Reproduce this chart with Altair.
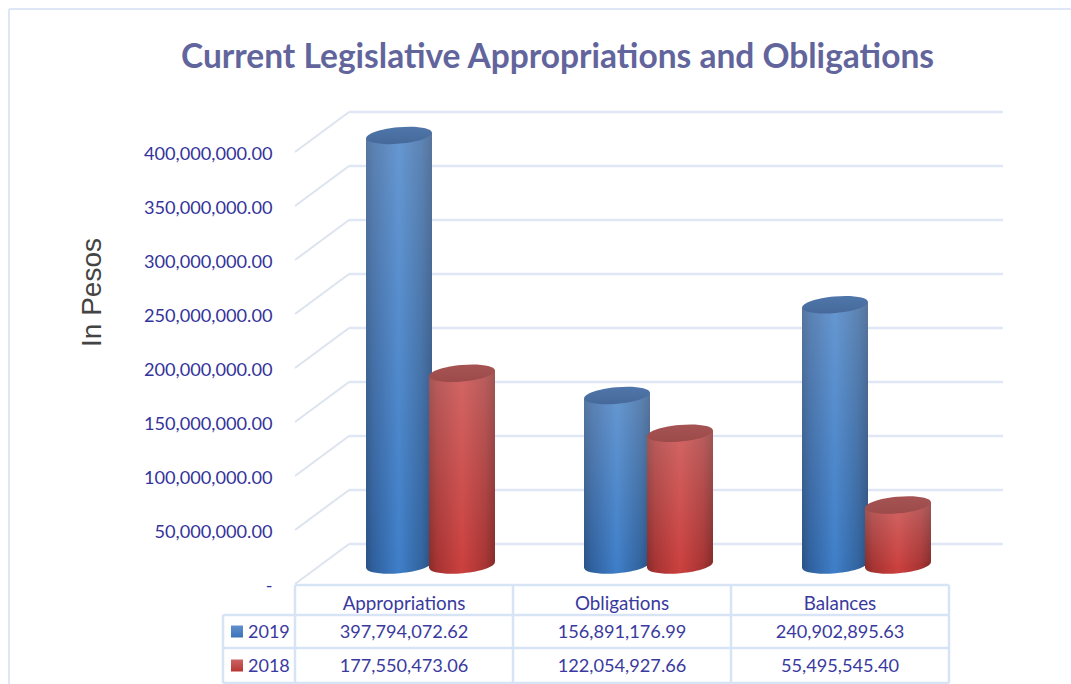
import math

import altair as alt
import pandas as pd

# ----- Chart values -----
CATEGORIES = ["Appropriations", "Obligations", "Balances"]
VALUES_2019 = [397794072.62, 156891176.99, 240902895.63]
VALUES_2018 = [177550473.06, 122054927.66, 55495545.40]
AXIS_TICKS = [0, 50e6, 100e6, 150e6, 200e6, 250e6, 300e6, 350e6, 400e6]
TITLE = "Current Legislative Appropriations and Obligations"

# ----- Canvas and projection of the pseudo-3D plot box -----
W, H = 1071, 684
SLOT_PX = 218.0            # width of one category column
FLOOR_LEFT_PX = 295.0      # left edge of the first category column
ZERO_PX = 584.0            # pixel row of the value 0 at the front of the box
PX_PER_VALUE = 1.08e-6
DEPTH_X = 54.0 / SLOT_PX   # how far the back wall is shifted right
DEPTH_Y = 40.0 / PX_PER_VALUE  # and upward, in value units
MID_DEPTH_Y = 19.0 / PX_PER_VALUE  # cylinders stand half way into the box
TILT_Y = 3.0 / PX_PER_VALUE        # slant of the cylinder rims
CYL_PX = 66.0
HALF = (CYL_PX / 2) / SLOT_PX
CENTER_2019 = 104.0 / SLOT_PX
CENTER_2018 = 167.0 / SLOT_PX

x_scale = alt.Scale(domain=[-FLOOR_LEFT_PX / SLOT_PX, (W - FLOOR_LEFT_PX) / SLOT_PX], nice=False, zero=False)
y_scale = alt.Scale(domain=[(ZERO_PX - H) / PX_PER_VALUE, ZERO_PX / PX_PER_VALUE], nice=False, zero=False)
row_scale = alt.Scale(domain=[0, 1, 2, 3], range=[585, 615, 648, 683], nice=False, zero=False)

# The value axis carries the tick labels and the axis title; every layer
# on the value scale declares the same axis so that they merge into one.
value_axis = alt.Axis(
    values=AXIS_TICKS,
    labelExpr="datum.value === 0 ? '-' : format(datum.value, ',.2f')",
    orient="left",
    offset=-272,
    domain=False,
    ticks=False,
    grid=False,
    labelFont="Lato",
    labelFontSize=18.2,
    labelColor="#33339b",
    labelPadding=0,
    labelOverlap=False,
    labelBaseline="middle",
    labelOffset=2.5,
    title="In Pesos",
    titleFont="Liberation Sans",
    titleFontSize=28,
    titleFontWeight="normal",
    titleColor="#444444",
    titleAngle=270,
    titleX=-180,
    titleY=292,
    titleAlign="center",
    titleBaseline="middle",
)


def ellipse_path(minor=0.25, degrees=-5.2):
    """Unit symbol path of a slanted ellipse, built from four cubic curves."""
    k = 0.5523
    t = math.radians(degrees)

    def p(u, v):
        x, y = u, v * minor
        return f"{x * math.cos(t) - y * math.sin(t):.4f},{x * math.sin(t) + y * math.cos(t):.4f}"

    return (
        f"M{p(1, 0)}C{p(1, k)} {p(k, 1)} {p(0, 1)}C{p(-k, 1)} {p(-1, k)} {p(-1, 0)}"
        f"C{p(-1, -k)} {p(-k, -1)} {p(0, -1)}C{p(k, -1)} {p(1, -k)} {p(1, 0)}Z"
    )


RIM = ellipse_path()


def hgrad(stops):
    return alt.Gradient(gradient="linear", x1=0, x2=1, y1=0, y2=0,
                        stops=[alt.GradientStop(offset=o, color=c) for o, c in stops])


def vgrad(stops):
    return alt.Gradient(gradient="linear", x1=0, x2=0, y1=0, y2=1,
                        stops=[alt.GradientStop(offset=o, color=c) for o, c in stops])


def cylinders(values, center, body_stops, sheen, cap_stops):
    """One series of cylinders: floor rim, slanted body, highlight and top rim."""
    x = alt.X("x:Q", scale=x_scale, axis=None)
    rims = pd.DataFrame({
        "x": [i + center for i in range(len(values))],
        "top": [v + MID_DEPTH_Y for v in values],
        "base": [MID_DEPTH_Y] * len(values),
    })
    rows = []
    for i, v in enumerate(values):
        for side in (-1, 1):
            rows.append({
                "bar": i,
                "x": i + center + side * HALF,
                "top": v + MID_DEPTH_Y + side * TILT_Y,
                "base": MID_DEPTH_Y + side * TILT_Y,
            })
    sides = pd.DataFrame(rows)

    floor = alt.Chart(rims).mark_point(
        shape=RIM, size=CYL_PX ** 2, filled=True, opacity=1, fill=hgrad(body_stops), strokeWidth=0
    ).encode(x=x, y=alt.Y("base:Q", scale=y_scale, axis=value_axis))
    body = alt.Chart(sides).mark_area(fill=hgrad(body_stops)).encode(
        x=x, y=alt.Y("top:Q", scale=y_scale, axis=value_axis, stack=None), y2="base:Q", detail="bar:N"
    )
    shine = alt.Chart(sides).mark_area(fill=vgrad(sheen)).encode(
        x=x, y=alt.Y("top:Q", scale=y_scale, axis=value_axis, stack=None), y2="base:Q", detail="bar:N"
    )
    cap = alt.Chart(rims).mark_point(
        shape=RIM, size=CYL_PX ** 2, filled=True, opacity=1, fill=vgrad(cap_stops), strokeWidth=0
    ).encode(x=x, y=alt.Y("top:Q", scale=y_scale, axis=value_axis))
    return [floor, body, shine, cap]


# ----- Walls of the box -----
GRID = "#dfe7f6"
grid_df = pd.DataFrame({
    "front": [0.0] * len(AXIS_TICKS),
    "back": [DEPTH_X] * len(AXIS_TICKS),
    "end": [3 + DEPTH_X] * len(AXIS_TICKS),
    "value": AXIS_TICKS,
    "value_back": [v + DEPTH_Y for v in AXIS_TICKS],
})

back_wall = alt.Chart(grid_df).mark_rule(color=GRID, strokeWidth=2.5).encode(
    x=alt.X("back:Q", scale=x_scale, axis=None),
    x2="end:Q",
    y=alt.Y("value_back:Q", scale=y_scale, axis=value_axis),
)
side_wall = alt.Chart(grid_df).mark_rule(color="#dde4ef", strokeWidth=2).encode(
    x=alt.X("front:Q", scale=x_scale, axis=None),
    x2="back:Q",
    y=alt.Y("value:Q", scale=y_scale, axis=value_axis),
    y2="value_back:Q",
)

# ----- Cylinders -----
blue = cylinders(
    VALUES_2019, CENTER_2019,
    [(0, "#2a5285"), (0.12, "#30619f"), (0.5, "#3f7fc9"), (0.85, "#32649f"), (1, "#2a4f80")],
    [(0, "rgba(205,215,230,0.28)"), (1, "rgba(205,215,230,0)")],
    [(0, "#4f76aa"), (1, "#46699a")],
)
red = cylinders(
    VALUES_2018, CENTER_2018,
    [(0, "#872b2b"), (0.12, "#a63332"), (0.5, "#cb413f"), (0.85, "#a83433"), (1, "#842a2a")],
    [(0, "rgba(225,190,190,0.30)"), (1, "rgba(225,190,190,0)")],
    [(0, "#a65453"), (1, "#9c4a4a")],
)

# ----- Data table under the plot -----
TABLE_LINE = "#d6e4f6"
TEXT = "#3a3a9e"
h_lines = pd.DataFrame({
    "x": [0.0, -72 / SLOT_PX, -72 / SLOT_PX, -72 / SLOT_PX],
    "x2": [3.0, 3.0, 3.0, 3.0],
    "row": [0, 1, 2, 3],
})
v_lines = pd.DataFrame({
    "x": [-72 / SLOT_PX, 0.0, 1.0, 2.0, 3.0],
    "row": [1, 0, 0, 0, 0],
    "row2": [3, 3, 3, 3, 3],
})
headers = pd.DataFrame([{"x": i + 0.5, "row": 0.63, "label": c} for i, c in enumerate(CATEGORIES)])
cells = pd.DataFrame(
    [{"x": i + 0.5, "row": 1.55, "label": f"{v:,.2f}"} for i, v in enumerate(VALUES_2019)]
    + [{"x": i + 0.5, "row": 2.53, "label": f"{v:,.2f}"} for i, v in enumerate(VALUES_2018)]
)
names = pd.DataFrame({"x": [-47 / SLOT_PX] * 2, "row": [1.55, 2.53], "label": ["2019", "2018"]})
keys = pd.DataFrame({"x": [-58 / SLOT_PX], "row": [1.5]})
keys2 = pd.DataFrame({"x": [-58 / SLOT_PX], "row": [2.5]})

tx = alt.X("x:Q", scale=x_scale, axis=None)
ty = alt.Y("row:Q", scale=row_scale, axis=None)
table = alt.layer(
    alt.Chart(h_lines).mark_rule(color=TABLE_LINE, strokeWidth=2.5).encode(x=tx, x2="x2:Q", y=ty),
    alt.Chart(v_lines).mark_rule(color=TABLE_LINE, strokeWidth=2.5).encode(x=tx, y=ty, y2="row2:Q"),
    alt.Chart(headers).mark_text(font="Lato", fontSize=18.8, color=TEXT, align="center", baseline="middle").encode(
        x=tx, y=ty, text="label:N"
    ),
    alt.Chart(cells).mark_text(font="Lato", fontSize=18.2, color=TEXT, align="center", baseline="middle").encode(
        x=tx, y=ty, text="label:N"
    ),
    alt.Chart(names).mark_text(font="Lato", fontSize=18, color=TEXT, align="left", baseline="middle").encode(
        x=tx, y=ty, text="label:N"
    ),
    alt.Chart(keys).mark_square(size=144, opacity=1, fill=vgrad([(0, "#6390cd"), (1, "#3a72b8")]), strokeWidth=0).encode(x=tx, y=ty),
    alt.Chart(keys2).mark_square(size=144, opacity=1, fill=vgrad([(0, "#c86463"), (1, "#b93633")]), strokeWidth=0).encode(x=tx, y=ty),
)

# ----- Outer frame of the chart area -----
frame = alt.layer(
    alt.Chart(pd.DataFrame({"a": [0]})).mark_rule(color="#dde7f5", strokeWidth=2).encode(
        x=alt.value(9), x2=alt.value(W), y=alt.value(9)
    ),
    alt.Chart(pd.DataFrame({"a": [0]})).mark_rule(color="#dde7f5", strokeWidth=2).encode(
        x=alt.value(9), y=alt.value(9), y2=alt.value(H)
    ),
)

plot = alt.layer(back_wall, side_wall, *blue, *red)

chart = (
    alt.layer(frame, plot, table)
    .resolve_scale(y="independent")
    .properties(
        width=W,
        height=H,
        padding=0,
        autosize=alt.AutoSizeParams(type="none"),
        background="white",
        title=alt.TitleParams(
            text=TITLE,
            font="Lato",
            fontSize=33.5,
            fontWeight="bold",
            color="#62659c",
            anchor="middle",
            dx=22,
            offset=-75,
        ),
    )
    .configure_view(strokeWidth=0)
)

chart.save("out.html", embed_options={"renderer": "svg", "actions": False})
